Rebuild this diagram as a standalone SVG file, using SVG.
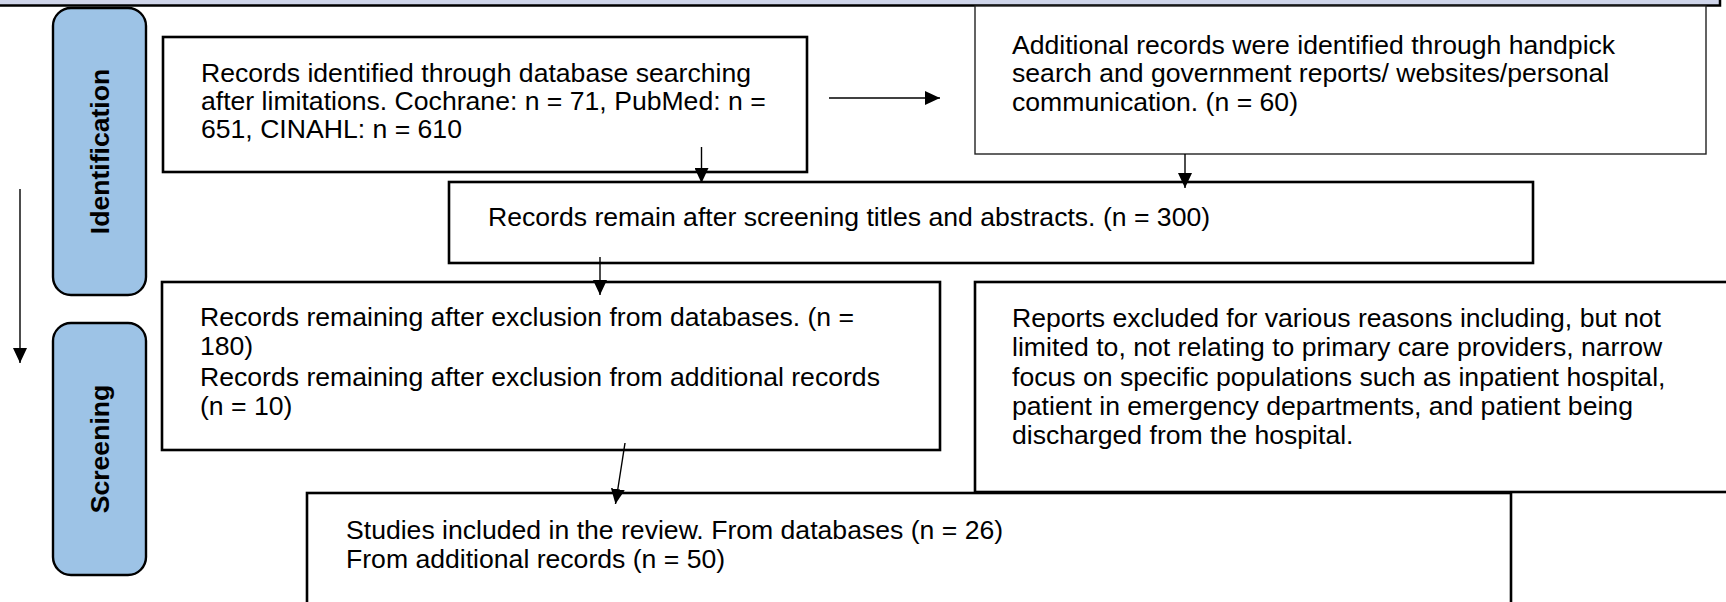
<svg xmlns="http://www.w3.org/2000/svg" width="1726" height="602" viewBox="0 0 1726 602">
  <style>
    .t { font-family: "Liberation Sans", Arial, sans-serif; font-size: 26.6px; fill: #000; }
    .lbl { font-family: "Liberation Sans", Arial, sans-serif; font-size: 26.6px; font-weight: bold; fill: #000; }
    .box { fill: #fff; stroke: #000; stroke-width: 2.6; }
    .thin { fill: #fff; stroke: #222; stroke-width: 1.4; }
    .pill { fill: #9dc3e6; stroke: #000; stroke-width: 2.4; }
    .conn { stroke: #000; stroke-width: 1.4; fill: none; marker-end: url(#ah); }
  </style>
  <defs>
    <marker id="ah" markerUnits="userSpaceOnUse" markerWidth="15" markerHeight="14" refX="15" refY="7" orient="auto">
      <path d="M0,0 L15,7 L0,14 z" fill="#000"/>
    </marker>
  </defs>
  <rect x="0" y="0" width="1726" height="602" fill="#fff"/>
  <g id="band">
    <rect x="-10" y="-10" width="1730" height="15.5" fill="#cfd5ea" stroke="#000" stroke-width="2.5"/>
  </g>
  <g id="stage-identification">
    <rect class="pill" x="53" y="8" width="93" height="287" rx="18" ry="18"/>
    <text class="lbl" transform="translate(108.5,151.5) rotate(-90)" text-anchor="middle">Identification</text>
  </g>
  <g id="stage-screening">
    <rect class="pill" x="53" y="323" width="93" height="252" rx="18" ry="18"/>
    <text class="lbl" transform="translate(108.5,449) rotate(-90)" text-anchor="middle">Screening</text>
  </g>
  <g id="box-database">
    <rect class="box" x="163" y="37" width="644" height="135"/>
    <text class="t" x="201" y="82">Records identified through database searching</text>
    <text class="t" x="201" y="110">after limitations. Cochrane: n = 71, PubMed: n =</text>
    <text class="t" x="201" y="138">651, CINAHL: n = 610</text>
  </g>
  <g id="box-additional">
    <rect class="thin" x="975" y="6" width="731" height="148"/>
    <text class="t" x="1012" y="53.5">Additional records were identified through handpick</text>
    <text class="t" x="1012" y="82">search and government reports/ websites/personal</text>
    <text class="t" x="1012" y="110.5">communication. (n = 60)</text>
  </g>
  <g id="box-screened">
    <rect class="box" x="449" y="182" width="1084" height="81"/>
    <text class="t" x="488" y="226">Records remain after screening titles and abstracts. (n = 300)</text>
  </g>
  <g id="box-remaining">
    <rect class="box" x="162" y="282" width="778" height="168"/>
    <text class="t" x="200" y="326">Records remaining after exclusion from databases. (n =</text>
    <text class="t" x="200" y="355.3">180)</text>
    <text class="t" x="200" y="385.5">Records remaining after exclusion from additional records</text>
    <text class="t" x="200" y="414.5">(n = 10)</text>
  </g>
  <g id="box-excluded">
    <rect class="box" x="975" y="282" width="760" height="210"/>
    <text class="t" x="1012" y="327">Reports excluded for various reasons including, but not</text>
    <text class="t" x="1012" y="356.3">limited to, not relating to primary care providers, narrow</text>
    <text class="t" x="1012" y="385.6">focus on specific populations such as inpatient hospital,</text>
    <text class="t" x="1012" y="415">patient in emergency departments, and patient being</text>
    <text class="t" x="1012" y="444">discharged from the hospital.</text>
  </g>
  <g id="box-included">
    <rect class="box" x="307" y="493" width="1204" height="130"/>
    <text class="t" x="346" y="538.5">Studies included in the review. From databases (n = 26)</text>
    <text class="t" x="346" y="568">From additional records (n = 50)</text>
  </g>
  <g id="connectors">
    <line class="conn" x1="829" y1="98" x2="940" y2="98"/>
    <line class="conn" x1="701.5" y1="147" x2="701.5" y2="183"/>
    <line class="conn" x1="1185" y1="154" x2="1185" y2="188"/>
    <line class="conn" x1="600" y1="257" x2="600" y2="295"/>
    <line class="conn" x1="625" y1="443" x2="615.5" y2="504"/>
    <line class="conn" x1="20" y1="189" x2="20" y2="363"/>
  </g>
</svg>
